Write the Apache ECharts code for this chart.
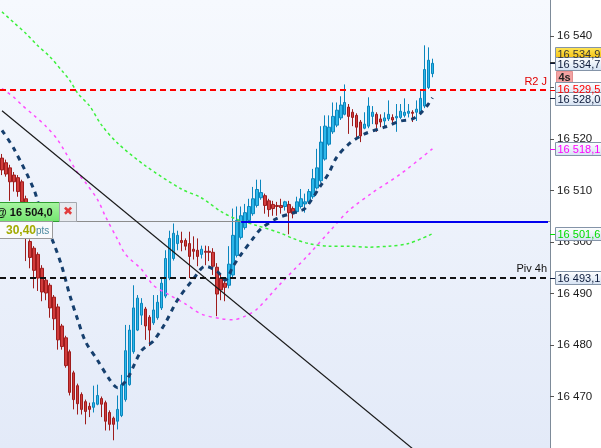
<!DOCTYPE html>
<html><head><meta charset="utf-8">
<script src="https://cdn.jsdelivr.net/npm/echarts@6/dist/echarts.min.js"></script>
<style>html,body{margin:0;padding:0;background:#fff}#chart{width:601px;height:448px}</style>
</head><body><div id="chart"></div>
<script>
// candles (index 0 = oldest), prices
var open = [16516.3,16515.4,16514.4,16513.0,16512.5,16511.7,16508.4,16500.1,16498.8,16497.6,
  16494.9,16492.6,16491.6,16489.3,16487.4,16483.7,16481.4,16478.7,16474.6,16472.1,
  16470.4,16469.0,16468.1,16467.9,16468.5,16469.6,16468.8,16466.9,16465.8,16465.2,
  16466.3,16469.4,16472.3,16478.7,16482.9,16485.8,16487.0,16485.4,16484.3,16485.3,
  16487.2,16489.5,16493.0,16496.8,16499.7,16500.3,16500.3,16499.7,16498.6,16498.4,
  16497.6,16498.2,16498.2,16498.0,16495.1,16493.0,16492.0,16491.6,16493.6,16497.4,
  16500.9,16502.8,16504.2,16505.5,16507.1,16508.6,16509.0,16508.0,16507.3,16507.1,
  16507.1,16506.9,16507.3,16506.5,16505.9,16506.9,16507.4,16507.8,16508.8,16510.5,
  16511.9,16516.1,16519.0,16521.4,16522.7,16524.1,16524.8,16526.2,16525.2,16524.6,
  16523.3,16522.1,16522.5,16524.4,16524.8,16523.9,16523.5,16523.9,16524.2,16524.1,
  16524.2,16524.6,16525.0,16525.2,16525.2,16525.2,16526.4,16530.0,16532.7];
var close = [16514.0,16513.2,16511.7,16511.7,16509.8,16507.8,16500.7,16497.0,16494.5,16493.0,
  16490.3,16490.1,16487.2,16485.1,16481.0,16479.7,16476.0,16470.8,16469.4,16468.6,
  16467.5,16467.1,16467.5,16468.8,16470.2,16468.5,16465.2,16464.6,16464.6,16467.5,
  16472.3,16478.9,16482.9,16487.2,16489.1,16488.1,16483.7,16482.9,16486.8,16488.3,
  16492.0,16496.8,16500.7,16501.7,16501.3,16499.9,16499.2,16497.2,16498.2,16497.2,
  16498.6,16498.0,16498.0,16495.3,16489.9,16490.7,16491.2,16495.7,16501.3,16504.2,
  16505.1,16505.7,16506.9,16508.4,16510.2,16509.6,16507.1,16506.3,16506.5,16506.9,
  16506.7,16507.8,16505.7,16505.5,16507.8,16508.4,16507.8,16509.8,16512.3,16514.4,
  16519.4,16522.5,16522.3,16524.4,16525.6,16526.6,16527.1,16524.4,16524.2,16522.3,
  16520.6,16522.9,16526.4,16525.2,16522.9,16523.3,16524.1,16524.8,16523.7,16524.4,
  16525.4,16525.2,16525.4,16525.0,16525.8,16527.9,16533.5,16535.3,16534.7];
var low = [16513.0,16512.7,16508.0,16509.8,16508.8,16507.4,16496.3,16494.9,16491.0,16490.5,
  16488.5,16488.7,16485.3,16482.9,16479.1,16479.1,16475.6,16470.2,16467.5,16466.5,
  16466.5,16464.6,16466.0,16466.9,16468.3,16466.0,16463.4,16463.4,16461.5,16463.6,
  16466.0,16469.0,16472.1,16478.3,16482.7,16483.9,16481.0,16479.8,16483.9,16484.9,
  16486.8,16489.1,16492.6,16496.4,16498.4,16498.2,16498.4,16493.0,16496.6,16495.3,
  16496.8,16495.5,16496.3,16493.6,16485.6,16488.7,16488.5,16491.0,16493.2,16497.0,
  16500.5,16502.4,16503.8,16505.1,16506.7,16508.2,16505.5,16504.9,16505.1,16505.1,
  16505.5,16506.1,16501.5,16504.6,16505.5,16506.5,16505.7,16507.4,16508.4,16510.2,
  16511.5,16515.8,16518.7,16521.0,16522.3,16523.7,16524.6,16521.0,16522.5,16520.4,
  16519.4,16521.9,16522.1,16522.9,16521.4,16522.3,16522.5,16523.5,16522.9,16521.4,
  16523.9,16524.2,16524.2,16523.3,16523.5,16524.8,16526.0,16529.7,16532.0];
var high = [16517.1,16516.0,16515.0,16513.6,16513.0,16512.1,16509.0,16500.5,16499.2,16498.0,
  16495.5,16493.2,16492.0,16489.7,16488.0,16484.1,16481.8,16479.1,16475.0,16472.5,
  16470.8,16469.4,16468.8,16472.1,16472.3,16470.0,16469.2,16467.3,16466.1,16470.2,
  16474.2,16483.9,16483.9,16491.6,16489.7,16489.1,16487.4,16485.8,16489.7,16489.7,
  16493.0,16498.4,16502.2,16503.6,16502.2,16502.0,16500.7,16502.0,16501.1,16500.7,
  16499.3,16499.3,16499.2,16498.8,16495.9,16493.9,16493.0,16499.2,16506.5,16506.9,
  16506.9,16507.4,16508.4,16510.7,16512.1,16512.1,16509.4,16508.4,16508.0,16507.8,
  16508.4,16508.0,16508.0,16506.9,16508.8,16510.3,16509.4,16510.3,16514.2,16518.1,
  16522.5,16524.6,16524.6,16527.1,16527.1,16528.3,16530.6,16526.8,16525.8,16525.0,
  16523.7,16525.2,16528.1,16526.4,16525.2,16524.8,16525.2,16527.5,16524.8,16526.8,
  16526.8,16527.9,16526.8,16525.6,16527.5,16529.3,16538.2,16537.8,16535.6];

// moving averages, [candle index, price]
var greenMA = [[0,16544.7],[3,16542.6],[6,16540.5],[9,16538.1],[12,16536.0],[15,16533.3],[17,16531.4],
  [19,16528.9],[22,16526.4],[25,16522.7],[29,16519.2],[36,16514.8],[45,16510.3],[50,16508.6],
  [55,16505.9],[59,16504.4],[64,16503.2],[70,16501.7],[73,16500.7],[77,16499.7],[82,16499.2],
  [87,16499.2],[92,16499.0],[97,16499.2],[102,16499.7],[108,16501.6]];
var pinkMA = [[0,16529.8],[3,16528.1],[5,16526.6],[8,16524.6],[11,16522.5],[14,16519.8],[19,16513.4],
  [21,16511.5],[24,16508.2],[26,16504.9],[29,16500.5],[31,16497.6],[35,16494.7],[38,16491.6],
  [42,16489.7],[46,16488.0],[50,16486.0],[55,16485.1],[58,16484.9],[61,16485.6],[64,16487.0],
  [70,16492.0],[77,16497.6],[82,16501.9],[87,16506.1],[93,16509.6],[100,16513.2],[108,16518.1]];
var navyMA = [[0,16521.7],[3,16518.1],[8,16510.2],[10,16505.1],[13,16499.7],[15,16495.3],[17,16489.7],
  [19,16484.9],[21,16480.6],[24,16477.0],[27,16473.3],[29,16471.7],[31,16472.9],[32,16474.2],
  [35,16478.9],[38,16480.8],[41,16484.3],[44,16488.7],[48,16492.8],[51,16495.3],[54,16494.3],
  [56,16492.6],[58,16495.3],[60,16497.6],[63,16500.7],[65,16502.6],[69,16504.6],[74,16505.9],
  [76,16506.5],[80,16511.0],[82,16513.4],[84,16516.5],[87,16519.0],[91,16521.0],[96,16522.3],
  [100,16523.5],[103,16523.9],[105,16525.0],[107,16526.8],[108,16528.0]];
var trend = [[0,16525.5],[108,16456.7]];

var r2Level = 16529.5, pivLevel = 16493.1, entryLevel = 16504.0, entryFrom = 60;
var yTicks = [16470,16480,16490,16500,16510,16520,16530,16540];
var tagValues = [16534.9,16534.7,16529.5,16528.0,16518.1,16501.6,16493.1];
var gainText = '30,40';
var slots = 138;

var cats = [];
for (var i = 0; i < slots; i++) cats.push(i);
var candles = open.map(function (o, i) { return [o, close[i], low[i], high[i]]; });

function fmt(v) {
  var s = v.toFixed(1).replace('.', ',');
  return s.slice(0, 2) + ' ' + s.slice(2);
}
var FONT = '"Liberation Sans", Arial, sans-serif';

var chart = echarts.init(document.getElementById('chart'));
var option = {
  animation: false,
  grid: {
    left: 0, top: 0, width: 550, height: 450.6, show: true, borderWidth: 0,
    backgroundColor: new echarts.graphic.LinearGradient(0, 0, 0, 1, [
      {offset: 0, color: '#f6f9fe'}, {offset: 1, color: '#e3eaf8'}])
  },
  xAxis: {type: 'category', data: cats, show: false, boundaryGap: true},
  yAxis: {
    type: 'value', position: 'right', min: 16460, max: 16547, interval: 10,
    splitLine: {show: false},
    axisLine: {show: true, lineStyle: {color: '#7d8b99', width: 1}},
    axisTick: {show: true, length: 4, customValues: yTicks, lineStyle: {color: '#555'}},
    axisLabel: {
      margin: 7, color: '#1a1a1a', fontSize: 11.5, fontFamily: FONT, customValues: yTicks,
      formatter: function (v) { var s = String(v); return s.slice(0, 2) + ' ' + s.slice(2); }
    }
  },
  series: [
    {
      type: 'candlestick', data: candles, barWidth: 3, z: 2,
      itemStyle: {color: '#2db7ea', color0: '#d13c3c', borderColor: '#0a86bd', borderColor0: '#9e1c1c', borderWidth: 1}
    },
    {type: 'line', data: greenMA, symbol: 'none', smooth: 0.3, z: 3, silent: true,
      lineStyle: {color: '#3cf03c', width: 1.5, type: [3, 3]}},
    {type: 'line', data: pinkMA, symbol: 'none', smooth: 0.3, z: 3, silent: true,
      lineStyle: {color: '#ff4cff', width: 1.5, type: [3, 4]}},
    {type: 'line', data: navyMA, symbol: 'none', smooth: 0.3, z: 4, silent: true,
      lineStyle: {color: '#163f6e', width: 3, type: [5, 5]}},
    {
      type: 'line', data: trend, symbol: 'none', z: 5, silent: true,
      lineStyle: {color: '#1a1a1a', width: 1.2},
      markLine: {
        symbol: 'none', silent: true, animation: false,
        data: [
          {yAxis: entryLevel, lineStyle: {color: '#8c8c8c', width: 1, type: 'solid'}, label: {show: false}},
          [{coord: [entryFrom, entryLevel], lineStyle: {color: '#0000ee', width: 2, type: 'solid'}, label: {show: false}},
           {coord: [slots - 1, entryLevel]}],
          {yAxis: r2Level, lineStyle: {color: '#ff0000', width: 2, type: [6, 4]},
            label: {show: true, position: 'insideEndTop', formatter: 'R2 J', color: '#e00000', fontSize: 11, fontFamily: FONT, distance: 3}},
          {yAxis: pivLevel, lineStyle: {color: '#111', width: 2, type: [6, 4]},
            label: {show: true, position: 'insideEndTop', formatter: 'Piv 4h', color: '#111', fontSize: 11, fontFamily: FONT, distance: 3}}
        ]
      }
    }
  ]
};
chart.setOption(option);

// price tags on the right axis
var tagStyle = [
  {color: '#333', top: '#ffe75a', bottom: '#f3b800', dy: -8},
  {color: '#0c1a3a', top: '#ffffff', bottom: '#d4e1f2', dy: 1},
  {color: '#ff0000', top: '#ffffff', bottom: '#d4e1f2', dy: -1.5},
  {color: '#0c1a3a', top: '#ffffff', bottom: '#d4e1f2', dy: 1.5},
  {color: '#ff00ff', top: '#ffffff', bottom: '#d4e1f2', dy: 0},
  {color: '#00dd00', top: '#ffffff', bottom: '#d4e1f2', dy: 0},
  {color: '#0c1a3a', top: '#ffffff', bottom: '#d4e1f2', dy: 0}
];
function py(v) { return chart.convertToPixel({yAxisIndex: 0}, v); }
var g = [];
tagValues.forEach(function (v, k) {
  var st = tagStyle[k], y = Math.round(py(v) + st.dy);
  g.push({type: 'line', shape: {x1: 550, y1: Math.round(py(v)) + 0.5, x2: 555, y2: Math.round(py(v)) + 0.5},
    style: {stroke: st.color, lineWidth: 1}, z: 10});
  g.push({type: 'rect', shape: {x: 555.5, y: y - 6.5, width: 50, height: 13},
    style: {fill: new echarts.graphic.LinearGradient(0, 0, 0, 1, [{offset: 0, color: st.top}, {offset: 1, color: st.bottom}]),
      stroke: '#8494a8', lineWidth: 1}, z: 10});
  g.push({type: 'text', x: 557.5, y: y + 0.5, style: {text: fmt(v), fill: st.color, font: '11px ' + FONT, verticalAlign: 'middle'}, z: 11});
});
// "4s" timer tag
var ty = Math.round(py(r2Level)) - 12;
g.push({type: 'rect', shape: {x: 556.5, y: ty - 6.5, width: 16, height: 13}, style: {fill: '#f3a3a3', stroke: '#e49090'}, z: 9});
g.push({type: 'text', x: 558.5, y: ty, style: {text: '4s', fill: '#222', font: 'bold 11px ' + FONT, verticalAlign: 'middle'}, z: 9});

// entry order label
var ey = Math.round(py(entryLevel));
g.push({type: 'rect', shape: {x: -3.5, y: ey - 18.5, width: 63, height: 19},
  style: {fill: new echarts.graphic.LinearGradient(0, 0, 0, 1, [{offset: 0, color: '#a8f5a2'}, {offset: 1, color: '#72e46e'}]),
    stroke: '#2f9e2f', lineWidth: 1}, z: 12});
g.push({type: 'text', x: -4, y: ey - 8.5, style: {text: '@ ' + fmt(entryLevel), fill: '#111', font: 'bold 11px ' + FONT, verticalAlign: 'middle'}, z: 13});
g.push({type: 'rect', shape: {x: 59.5, y: ey - 18.5, width: 17, height: 19},
  style: {fill: '#e8ebf0', stroke: '#a4a8ae', lineWidth: 1}, z: 12});
g.push({type: 'text', x: 68, y: ey - 9, style: {text: '✖', fill: '#e23b3b', font: 'bold 12px "DejaVu Sans"', align: 'center', verticalAlign: 'middle'}, z: 13});
g.push({type: 'rect', shape: {x: -3.5, y: ey + 0.5, width: 56, height: 17},
  style: {fill: '#f9fafc', stroke: '#9a9a9a', lineWidth: 1}, z: 12});
g.push({type: 'text', x: 6, y: ey + 10, style: {text: gainText, fill: '#a2aa00', font: 'bold 12px ' + FONT, verticalAlign: 'middle'}, z: 13});
g.push({type: 'text', x: 36, y: ey + 10.5, style: {text: 'pts', fill: '#4d8aa0', font: '10px ' + FONT, verticalAlign: 'middle'}, z: 13});

chart.setOption({graphic: g});
</script>
</body></html>
